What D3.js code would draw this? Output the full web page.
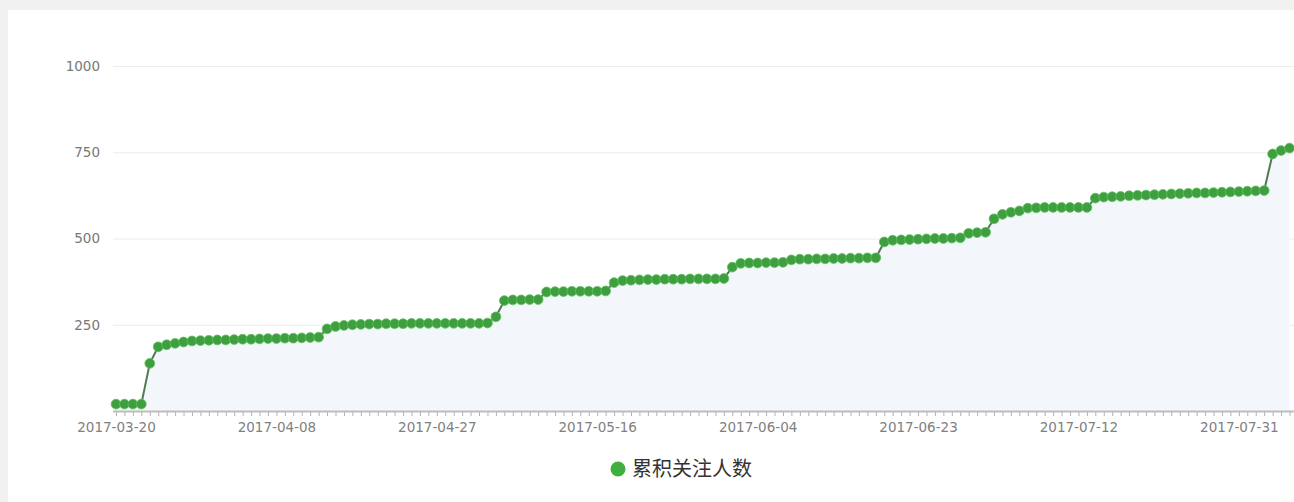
<!DOCTYPE html>
<html><head><meta charset="utf-8">
<script src="https://cdn.jsdelivr.net/npm/d3@7/dist/d3.min.js"></script>
<style>
html,body{margin:0;padding:0;background:#f1f1f1;overflow:hidden;}
svg{display:block;}
</style></head>
<body>
<script>
const startDate = "2017-03-20";
const dayCount = 140;
const seriesName = "累积关注人数";
const values = [
20,20,20,20,138,186,
192,196,200,203,204,205,206,206,207,208,208,209,210,210,211,211,212,213,214,
238,245,248,250,
251,252,252,253,253,253,254,254,254,254,254,254,254,254,254,255,
273,320,
322,322,323,323,
345,
346,346,347,347,347,347,348,
372,
378,379,380,381,381,382,382,382,383,383,383,383,384,
417,428,
429,429,430,430,431,
438,440,440,441,441,442,442,443,443,444,444,
490,
495,496,497,498,499,500,500,501,502,
515,517,518,
557,570,576,580,
588,589,590,590,590,590,590,590,
617,
620,621,622,624,625,626,627,628,629,630,631,632,632,633,634,635,636,637,638,639,
745,755,762
];
const xTickLabels = ["2017-03-20","2017-04-08","2017-04-27","2017-05-16","2017-06-04","2017-06-23","2017-07-12","2017-07-31"];
const yTicks = [250,500,750,1000];

const W = 1294, H = 502;
const parse = d3.timeParse("%Y-%m-%d");
const fmt = d3.timeFormat("%Y-%m-%d");
const dates = d3.timeDay.range(parse(startDate), d3.timeDay.offset(parse(startDate), dayCount));
const data = dates.map((d,i)=>({date:d, value:values[i]}));

const svg = d3.select("body").append("svg").attr("width",W).attr("height",H);
svg.append("rect").attr("x",8).attr("y",10).attr("width",W).attr("height",H).attr("fill","#fff");

const plotLeft = 113, plotRight = 1294, y0 = 411;
const x = d3.scaleTime().domain([dates[0], dates[dates.length-1]]).range([116, 1289.5]);
const y = d3.scaleLinear().domain([0,1000]).range([y0, 66]);

// grid
svg.append("g").selectAll("line").data(yTicks).join("line")
  .attr("x1",plotLeft).attr("x2",plotRight)
  .attr("y1",d=>y(d)+0.5).attr("y2",d=>y(d)+0.5)
  .attr("stroke","#ececec").attr("stroke-width",1);

// y labels
const yAxis = d3.axisLeft(y).tickValues(yTicks).tickSize(0).tickPadding(0).tickFormat(d3.format("d"));
const gy = svg.append("g").attr("transform","translate(100,0)").call(yAxis);
gy.select(".domain").remove();
gy.selectAll("text").attr("font-family","'DejaVu Sans', sans-serif").attr("font-size",13.5).attr("fill","#777");

// area
const area = d3.area().x(d=>x(d.date)).y0(y0).y1(d=>y(d.value));
svg.append("path").datum(data).attr("d",area).attr("fill","#f3f7fb");

// x axis
const labelSet = new Set(xTickLabels);
const xAxis = d3.axisBottom(x).ticks(d3.timeDay.every(1))
  .tickSize(5).tickPadding(6)
  .tickFormat(d=> labelSet.has(fmt(d)) ? fmt(d) : "");
const gx = svg.append("g").attr("transform",`translate(0,${y0})`).call(xAxis);
gx.select(".domain").remove();
gx.selectAll(".tick line").attr("stroke","#b0b0b0");
gx.selectAll("text").attr("font-family","'DejaVu Sans', sans-serif").attr("font-size",13.5).attr("fill","#808080");
svg.append("line").attr("x1",plotLeft).attr("x2",plotRight).attr("y1",y0+0.5).attr("y2",y0+0.5)
  .attr("stroke","#bdbdbd").attr("stroke-width",2);

// line
const line = d3.line().x(d=>x(d.date)).y(d=>y(d.value));
svg.append("path").datum(data).attr("d",line).attr("fill","none").attr("stroke","#527a52").attr("stroke-width",2);

// points
svg.append("g").selectAll("circle").data(data).join("circle")
  .attr("cx",d=>x(d.date)).attr("cy",d=>y(d.value)).attr("r",4.9)
  .attr("fill","#3f9e3f").attr("stroke","#5cc25c").attr("stroke-width",0.8);

// legend
const lg = svg.append("g").attr("transform","translate(618,469)");
lg.append("circle").attr("r",7.5).attr("fill","#3fb03f");
lg.append("text").attr("x",14).attr("y",0).attr("dy","0.35em")
  .attr("font-family","'Noto Sans CJK SC', sans-serif").attr("font-size",20).attr("fill","#333")
  .text(seriesName);
</script>
</body></html>
